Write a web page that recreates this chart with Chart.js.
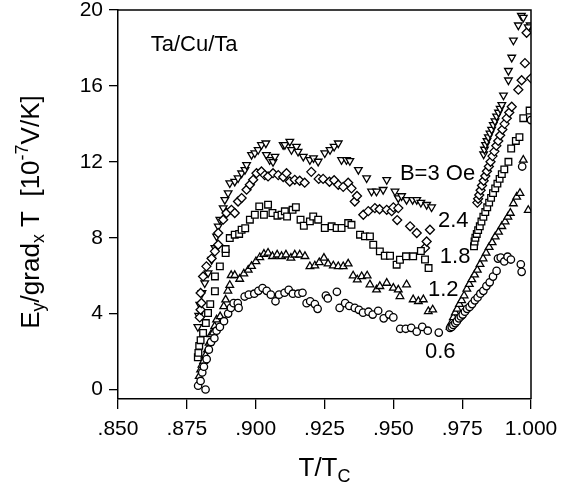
<!DOCTYPE html>
<html>
<head>
<meta charset="utf-8">
<script src="https://cdn.jsdelivr.net/npm/chart.js@4.4.1/dist/chart.umd.min.js"></script>
<style>
  html, body { margin: 0; padding: 0; background: #fff; }
  #wrap { width: 571px; height: 495px; }
</style>
</head>
<body>
<div id="wrap"><canvas id="myChart" width="571" height="495"></canvas></div>
<script>
// Ta/Cu/Ta : Ey/gradx T versus T/Tc, for five fields B (Oe)

// tick labels
const xTicks = [0.850, 0.875, 0.900, 0.925, 0.950, 0.975, 1.000];
const yTicks = [0, 4, 8, 12, 16, 20];

// B = 0.6 Oe (circles)
const t06 = [0.8791, 0.8800, 0.8818, 0.8806, 0.8812, 0.8822, 0.8830, 0.8838, 0.8850, 0.8858, 0.8870, 0.8885,
  0.8900, 0.8910, 0.8920, 0.8935, 0.8938, 0.8960, 0.8975, 0.8995, 0.9010, 0.9025, 0.9040, 0.9055, 0.9072, 0.9085,
  0.9105, 0.9120, 0.9135, 0.9155, 0.9170, 0.9185, 0.9198, 0.9215, 0.9225, 0.9255, 0.9262, 0.9295, 0.9305, 0.9325,
  0.9340, 0.9360, 0.9375, 0.9390, 0.9410, 0.9425, 0.9445, 0.9465, 0.9485, 0.9500, 0.9525, 0.9545, 0.9565, 0.9585,
  0.9605, 0.9625, 0.9665,
  0.9706, 0.9712, 0.9718, 0.9725, 0.9731, 0.9738, 0.9745, 0.9752, 0.9760, 0.9768, 0.9777, 0.9786, 0.9796, 0.9806,
  0.9816, 0.9827, 0.9838, 0.9850, 0.9862, 0.9875, 0.9880, 0.9890, 0.9903, 0.9915, 0.9927, 0.9963, 0.9966, 0.9968, 1.0000];
const y06 = [0.2, 0.45, 0.0, 0.9, 1.2, 1.6, 2.1, 2.5, 2.7, 3.1, 3.3, 3.6,
  4.0, 4.3, 4.55, 4.55, 4.3, 4.9, 5.0, 5.05, 5.2, 5.35, 5.2, 5.0, 4.65, 5.0,
  5.1, 5.25, 5.05, 5.05, 5.1, 4.55, 4.65, 4.5, 4.25, 4.95, 4.8, 5.15, 4.3, 4.55,
  4.4, 4.3, 4.2, 4.05, 4.1, 3.95, 4.15, 3.75, 3.95, 3.8, 3.2, 3.2, 3.25, 3.05,
  3.3, 3.1, 3.0,
  3.25, 3.3, 3.4, 3.5, 3.6, 3.75, 3.85, 3.95, 4.1, 4.25, 4.35, 4.5, 4.7, 4.85,
  5.05, 5.2, 5.45, 5.65, 5.95, 6.25, 6.9, 6.95, 6.75, 7.0, 6.85, 6.6, 6.2, 11.75, 14.2];

// B = 1.2 Oe (triangles up)
const t12 = [0.8795, 0.8800, 0.8805, 0.8811, 0.8818, 0.8825, 0.8831, 0.8838, 0.8846, 0.8851, 0.8858, 0.8871,
  0.8884, 0.8891, 0.8899, 0.8906, 0.8911, 0.8924, 0.8942, 0.8957, 0.8973, 0.8985, 0.9001, 0.9015, 0.9030, 0.9045,
  0.9061, 0.9078, 0.9094, 0.9110, 0.9128, 0.9142, 0.9160, 0.9179, 0.9197, 0.9215, 0.9231, 0.9248, 0.9263, 0.9282,
  0.9300, 0.9318, 0.9336, 0.9354, 0.9369, 0.9385, 0.9405, 0.9415, 0.9439, 0.9451, 0.9476, 0.9500, 0.9518, 0.9524,
  0.9548, 0.9572, 0.9591, 0.9609, 0.9627, 0.9643,
  0.9706, 0.9712, 0.9718, 0.9725, 0.9732, 0.9740, 0.9748, 0.9757, 0.9767, 0.9776, 0.9785, 0.9795, 0.9805, 0.9815,
  0.9826, 0.9837, 0.9848, 0.9859, 0.9870, 0.9882, 0.9894, 0.9906, 0.9916, 0.9925, 0.9936, 0.9948, 0.9960, 0.9972, 0.9990];
const y12 = [0.7, 1.05, 1.3, 1.5, 1.8, 2.1, 2.45, 2.9, 3.0, 3.33, 3.68, 3.85,
  4.38, 4.73, 5.2, 5.5, 6.02, 6.02, 5.82, 6.1, 6.3, 6.5, 6.75, 6.96, 7.14, 7.2,
  7.02, 7.1, 7.02, 7.1, 6.93, 7.1, 7.1, 7.02, 6.49, 6.53, 6.7, 6.93, 6.63, 6.53,
  6.49, 6.49, 6.63, 6.0, 5.79, 5.96, 6.0, 5.53, 5.26, 5.44, 5.61, 5.35, 5.26, 4.91,
  5.53, 4.74, 4.65, 4.74, 4.12, 4.21,
  3.3, 3.55, 3.8, 4.05, 4.25, 4.5, 4.7, 4.95, 5.3, 5.55, 5.8, 6.05, 6.3, 6.6,
  6.9, 7.2, 7.5, 7.75, 8.05, 8.3, 8.6, 8.85, 9.1, 9.3, 9.8, 10.15, 10.35, 12.1, 9.45];

// B = 1.8 Oe (squares)
const t18 = [0.8790, 0.8792, 0.8795, 0.8800, 0.8809, 0.8819, 0.8827, 0.8835, 0.8852, 0.8852, 0.8870, 0.8891,
  0.8891, 0.8906, 0.8924, 0.8940, 0.8949, 0.8962, 0.8979, 0.8997, 0.9013, 0.9030, 0.9045, 0.9061, 0.9079, 0.9094,
  0.9106, 0.9114, 0.9134, 0.9146, 0.9163, 0.9175, 0.9197, 0.9209, 0.9227, 0.9251, 0.9276, 0.9294, 0.9312, 0.9336,
  0.9348, 0.9379, 0.9397, 0.9415, 0.9427, 0.9451, 0.9469, 0.9488, 0.9512, 0.9524, 0.9546, 0.9572, 0.9600, 0.9615, 0.9628,
  0.9793, 0.9795, 0.9798, 0.9803, 0.9808, 0.9814, 0.9820, 0.9827, 0.9834, 0.9841, 0.9848, 0.9855, 0.9862, 0.9870,
  0.9878, 0.9886, 0.9894, 0.9903, 0.9918, 0.9928, 0.9945, 0.9958, 0.9972, 0.9995];
const y18 = [1.7, 1.93, 2.3, 2.6, 2.98, 3.5, 4.03, 4.5, 5.18, 5.96, 6.49, 7.19,
  7.4, 7.98, 8.16, 8.2, 8.42, 8.5, 8.95, 9.21, 9.65, 9.21, 9.74, 9.3, 9.16, 9.21,
  9.39, 9.12, 9.47, 9.61, 8.95, 8.63, 8.86, 9.12, 8.95, 8.51, 8.6, 8.51, 8.51, 8.77,
  8.68, 8.16, 8.07, 8.07, 7.63, 7.28, 7.05, 7.05, 6.58, 6.84, 7.02, 7.02, 7.3, 6.85, 6.4,
  7.55, 7.8, 8.0, 8.2, 8.4, 8.6, 8.85, 9.1, 9.35, 9.6, 9.85, 10.1, 10.35, 10.6,
  10.85, 11.1, 11.35, 11.6, 12.0, 12.7, 13.1, 13.3, 14.3, 14.7];

// B = 2.4 Oe (diamonds)
const t24 = [0.8797, 0.8800, 0.8803, 0.8800, 0.8809, 0.8821, 0.8840, 0.8852, 0.8864, 0.8864, 0.8882, 0.8894,
  0.8912, 0.8924, 0.8936, 0.8949, 0.8967, 0.8979, 0.8991, 0.9003, 0.9021, 0.9033, 0.9045, 0.9063, 0.9082, 0.9100,
  0.9112, 0.9124, 0.9142, 0.9160, 0.9178, 0.9202, 0.9229, 0.9245, 0.9268, 0.9285, 0.9300, 0.9318, 0.9336, 0.9348,
  0.9360, 0.9368, 0.9391, 0.9409, 0.9433, 0.9450, 0.9476, 0.9494, 0.9500, 0.9514, 0.9518, 0.9561, 0.9585, 0.9615,
  0.9621, 0.9633,
  0.9805, 0.9808, 0.9812, 0.9817, 0.9822, 0.9828, 0.9834, 0.9840, 0.9847, 0.9853, 0.9860, 0.9867, 0.9874, 0.9881,
  0.9888, 0.9896, 0.9904, 0.9912, 0.9921, 0.9930, 0.9954, 0.9966, 0.9978, 1.0000, 0.9984];
const y24 = [3.8, 4.2, 4.56, 5.09, 5.96, 6.49, 6.9, 7.28, 7.63, 8.25, 8.95, 9.3,
  9.47, 9.3, 9.91, 10.09, 10.53, 10.79, 11.05, 11.4, 11.49, 11.3, 11.23, 11.4, 11.3, 11.2,
  11.4, 10.96, 11.05, 11.0, 10.9, 11.47, 11.1, 11.1, 10.95, 11.03, 10.79, 10.68, 10.9, 10.6,
  9.91, 10.2, 9.21, 9.4, 9.56, 9.5, 9.47, 9.4, 9.6, 8.93, 9.56, 8.6, 8.25, 7.46,
  7.8, 8.42,
  9.85, 10.05, 10.25, 10.5, 10.75, 11.0, 11.25, 11.5, 11.75, 12.0, 12.3, 12.55, 12.85, 13.1,
  13.4, 13.7, 14.0, 14.3, 14.6, 14.9, 15.8, 16.3, 17.2, 16.4, 18.8];

// B = 3 Oe (triangles down)
const t30 = [0.8790, 0.8793, 0.8797, 0.8805, 0.8815, 0.8827, 0.8840, 0.8852, 0.8858, 0.8864, 0.8870, 0.8882,
  0.8888, 0.8900, 0.8906, 0.8924, 0.8936, 0.8949, 0.8961, 0.8967, 0.8985, 0.8997, 0.9009, 0.9021, 0.9037, 0.9039,
  0.9051, 0.9063, 0.9070, 0.9100, 0.9106, 0.9124, 0.9130, 0.9148, 0.9154, 0.9173, 0.9197, 0.9210, 0.9227, 0.9251,
  0.9270, 0.9285, 0.9300, 0.9312, 0.9330, 0.9342, 0.9373, 0.9403, 0.9421, 0.9439, 0.9463, 0.9476, 0.9506, 0.9518,
  0.9530, 0.9548, 0.9570, 0.9585, 0.9600, 0.9621, 0.9639,
  0.9828, 0.9831, 0.9835, 0.9840, 0.9845, 0.9851, 0.9857, 0.9863, 0.9869, 0.9875, 0.9882, 0.9888, 0.9894, 0.9900,
  0.9918, 0.9918, 0.9930, 0.9936, 0.9954, 0.9965, 0.9972, 0.9997, 0.9990];
const y30 = [3.3, 3.9, 4.47, 5.09, 5.61, 6.14, 6.84, 7.46, 8.07, 8.6, 8.95, 9.56,
  10.0, 10.35, 10.88, 10.96, 11.14, 11.4, 11.58, 11.84, 12.37, 12.46, 12.63, 12.89, 12.98, 12.37,
  12.1, 12.0, 12.28, 12.89, 12.9, 13.07, 12.63, 12.8, 12.54, 12.28, 12.1, 12.2, 12.02, 12.46,
  12.63, 12.8, 12.98, 12.1, 12.1, 12.05, 11.58, 11.14, 10.44, 10.44, 10.53, 11.05, 10.44, 10.09,
  10.2, 10.0, 10.0, 10.0, 9.85, 9.74, 9.61,
  12.4, 12.65, 12.9, 13.1, 13.3, 13.5, 13.7, 13.95, 14.15, 14.4, 14.6, 14.8, 15.0, 15.5,
  16.3, 16.8, 17.5, 18.4, 19.2, 19.7, 19.6, 19.2, 19.1];

// curve labels, placed in data units
const labelText = ['Ta/Cu/Ta', 'B=3 Oe', '2.4', '1.8', '1.2', '0.6'];
const labelX = [0.8619, 0.9524, 0.9662, 0.9669, 0.9626, 0.9615];
const labelY = [18.15, 11.37, 8.9, 7.0, 5.24, 1.97];

const FONT = '"Liberation Sans", Arial, sans-serif';
Chart.defaults.font.family = FONT;
Chart.defaults.color = '#000';

function pts(t, y) {
  return t.map((v, i) => ({x: v, y: y[i]}));
}

function series(t, y, style, radius, rotation) {
  return {
    data: pts(t, y),
    pointStyle: style,
    pointRadius: radius,
    pointRotation: rotation || 0,
    pointBorderWidth: 1.3,
    pointBorderColor: '#000',
    pointBackgroundColor: '#fff',
    showLine: false
  };
}

const data = {
  datasets: [
    series(t06, y06, 'circle', 3.7),
    series(t12, y12, 'triangle', 4.4),
    series(t18, y18, 'rect', 4.7),
    series(t24, y24, 'rectRot', 4.5),
    series(t30, y30, 'triangle', 4.4, 180)
  ]
};

// frame, curve labels and the axis titles with sub/superscripts
const extras = {
  id: 'extras',
  afterDraw(chart) {
    const ctx = chart.ctx;
    const a = chart.chartArea;
    const sx = chart.scales.x, sy = chart.scales.y;
    ctx.save();
    ctx.strokeStyle = '#000';
    ctx.lineWidth = 1.5;
    ctx.beginPath();
    ctx.moveTo(a.left, a.top);
    ctx.lineTo(a.right, a.top);
    ctx.lineTo(a.right, a.bottom);
    ctx.stroke();

    ctx.fillStyle = '#000';
    ctx.textAlign = 'left';
    ctx.textBaseline = 'middle';
    ctx.font = '22px ' + FONT;
    labelText.forEach((s, i) => {
      ctx.fillText(s, sx.getPixelForValue(labelX[i]), sy.getPixelForValue(labelY[i]));
    });

    const run = (parts, cx, cy) => {
      let w = 0;
      parts.forEach(p => { ctx.font = p[1] + 'px ' + FONT; w += ctx.measureText(p[0]).width; });
      let x = cx - w / 2;
      parts.forEach(p => {
        ctx.font = p[1] + 'px ' + FONT;
        ctx.fillText(p[0], x, cy + p[2]);
        x += ctx.measureText(p[0]).width;
      });
    };

    ctx.textBaseline = 'middle';
    run([['T/T', 26, 0], ['C', 18, 8]], (a.left + a.right) / 2, 469);

    ctx.translate(32, 212);
    ctx.rotate(-Math.PI / 2);
    run([['E', 26, 0], ['y', 18, 7], ['/grad', 26, 0], ['x', 18, 7], [' T  [10', 26, 0],
         ['-7', 18, -9], ['V/K]', 26, 0]], 0, 0);
    ctx.restore();
  }
};

const config = {
  type: 'scatter',
  data,
  options: {
    responsive: false,
    animation: false,
    layout: { padding: { left: 0, right: 40, top: 10, bottom: 0 } },
    plugins: { legend: { display: false }, tooltip: { enabled: false } },
    scales: {
      x: {
        type: 'linear',
        min: 0.85,
        max: 1.0,
        afterBuildTicks: s => { s.ticks = xTicks.map(v => ({value: v})); },
        afterFit: s => { s.height = 96; },
        ticks: {
          autoSkip: false,
          maxRotation: 0,
          padding: 8,
          font: { size: 21 },
          color: '#000',
          callback: v => v >= 1 ? '1.000' : v.toFixed(3).replace(/^0/, '')
        },
        grid: { drawOnChartArea: false, drawTicks: true, tickLength: 10, color: '#000', lineWidth: 1.3 },
        border: { display: true, color: '#000', width: 1.5 }
      },
      y: {
        min: -0.5,
        max: 20,
        afterBuildTicks: s => { s.ticks = yTicks.map(v => ({value: v})); },
        afterFit: s => { s.width = 118; s.paddingTop = 0; },
        ticks: { padding: 6, font: { size: 21 }, color: '#000' },
        grid: { drawOnChartArea: false, drawTicks: true, tickLength: 9, color: '#000', lineWidth: 1.3 },
        border: { display: true, color: '#000', width: 1.5 }
      }
    }
  },
  plugins: [extras]
};

const myChart = new Chart(document.getElementById('myChart'), config);
</script>
</body>
</html>
